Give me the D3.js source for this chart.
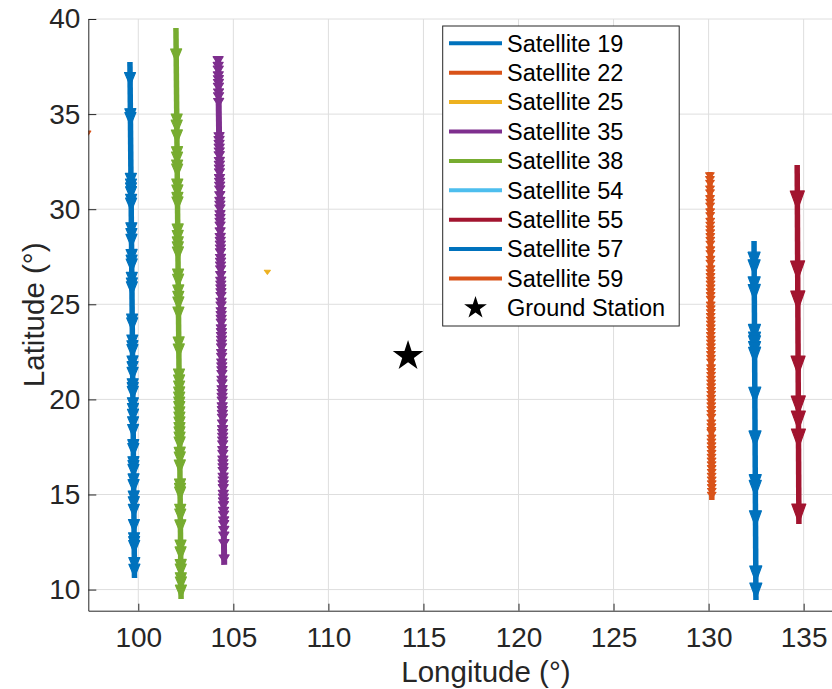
<!DOCTYPE html>
<html>
<head>
<meta charset="utf-8">
<script src="https://cdn.jsdelivr.net/npm/d3@7"></script>
<style>
  html, body { margin: 0; padding: 0; background: #fff; }
  svg { display: block; font-family: "Liberation Sans", Arial, Helvetica, sans-serif; }
</style>
</head>
<body>
<svg id="chart" width="832" height="689"></svg>
<script>
// ---------------- DATA ----------------
const satellites = ["Satellite 19", "Satellite 22", "Satellite 25", "Satellite 35", "Satellite 38",
                    "Satellite 54", "Satellite 55", "Satellite 57", "Satellite 59"];
// track start / end (longitude, latitude); null = no visible track
const lonStart = [99.56, 97.37, 106.79, 104.20, 101.98, null, 134.66, 132.39, 130.07];
const latStart = [37.74, 34.05, 26.72, 38.00, 39.53, null, 32.32, 28.33, 31.96];
const lonEnd   = [99.80, 97.37, 106.79, 104.52, 102.25, null, 134.75, 132.49, 130.17];
const latEnd   = [10.61, 33.90, 26.58, 11.30, 9.51, null, 13.45, 9.45, 14.71];
// latitudes of arrow-head tips along each track
const arrowLats = [
  [36.5, 34.6, 34.4, 31.2, 30.9, 30.7, 30.5, 30.1, 29.9, 28.6, 28.3, 28.0, 27.2, 26.9, 26.7, 26.0,
   25.7, 25.5, 23.8, 23.6, 22.7, 22.4, 22.2, 21.6, 21.3, 21.0, 20.4, 20.2, 20.0, 19.4, 19.1, 18.8,
   18.4, 18.0, 17.2, 17.0, 16.3, 16.1, 15.9, 15.4, 15.1, 14.5, 14.2, 13.8, 13.0, 12.3, 12.1, 11.9,
   11.0, 10.65],
  [33.90],
  [26.58],
  [37.6, 37.3, 37.1, 36.8, 36.6, 36.4, 36.2, 35.9, 35.7, 35.4, 33.6, 33.4, 33.2, 33.0, 32.8, 32.6,
   32.3, 32.1, 31.9, 31.7, 31.4, 31.2, 31.0, 30.8, 30.5, 30.2, 30.0, 29.8, 29.5, 29.3, 29.1, 28.9,
   28.6, 28.3, 28.1, 27.9, 27.7, 27.5, 27.2, 27.0, 26.8, 26.6, 26.3, 26.0, 25.8, 25.6, 25.4, 25.2,
   24.9, 24.7, 24.4, 24.2, 24.0, 23.8, 23.5, 23.3, 23.1, 22.9, 22.7, 22.5, 22.2, 22.0, 21.7, 21.5,
   21.3, 21.1, 20.8, 20.6, 20.3, 20.1, 19.9, 19.7, 19.4, 19.2, 19.0, 18.8, 18.5, 18.2, 18.0, 17.8,
   17.6, 17.4, 17.1, 16.9, 16.6, 16.4, 16.2, 16.0, 15.7, 15.5, 15.3, 15.1, 14.8, 14.6, 14.4, 14.2,
   13.9, 13.7, 13.4, 13.2, 12.9, 12.6, 12.2, 11.4],
  [37.74, 34.32, 34.0, 33.48, 32.6, 32.32, 31.9, 31.69, 30.9, 30.59, 30.2, 29.96, 28.54, 28.2, 27.86,
   27.6, 27.33, 26.17, 25.9, 25.33, 25.0, 24.70, 24.17, 22.60, 22.23, 20.91, 20.6, 20.28, 19.97,
   19.7, 19.44, 19.2, 18.92, 18.65, 18.39, 18.1, 17.87, 17.6, 17.34, 16.8, 16.55, 16.13, 15.13,
   14.9, 14.71, 13.8, 13.55, 12.98, 11.92, 11.56, 10.9, 10.66, 10.2, 9.98, 9.55],
  [],
  [29.96, 26.28, 24.70, 21.28, 19.18, 18.39, 17.44, 13.50],
  [26.9, 26.5, 25.6, 25.2, 23.1, 22.7, 22.5, 22.2, 21.9, 19.8, 17.5, 15.2, 14.9, 13.3, 10.4, 9.5],
  [31.6, 31.4, 31.2, 30.9, 30.7, 30.4, 30.2, 30.0, 29.7, 29.5, 29.2, 29.0, 28.8, 28.6, 28.4, 28.2,
   28.0, 27.7, 27.5, 27.2, 27.0, 26.7, 26.5, 26.3, 26.1, 25.9, 25.7, 25.5, 25.3, 25.1, 24.8, 24.6,
   24.4, 24.2, 24.0, 23.8, 23.6, 23.4, 23.2, 23.0, 22.8, 22.6, 22.4, 22.2, 22.0, 21.8, 21.5, 21.3,
   21.1, 20.9, 20.7, 20.5, 20.3, 20.1, 19.9, 19.7, 19.5, 19.3, 19.1, 18.9, 18.6, 18.4, 18.2, 18.1,
   17.8, 17.6, 17.4, 17.2, 17.0, 16.8, 16.6, 16.4, 16.2, 16.0, 15.8, 15.6, 15.4, 15.2, 15.0, 14.8]
];
const stationName = "Ground Station";
const stationLon = 114.19;
const stationLat = 22.28;
const lonTicks = [100, 105, 110, 115, 120, 125, 130, 135];
const latTicks = [10, 15, 20, 25, 30, 35, 40];
const xTitle = "Longitude (°)";
const yTitle = "Latitude (°)";

// ---------------- STYLE ----------------
const colors = ["#0072BD", "#D95319", "#EDB120", "#7E2F8E", "#77AC30", "#4DBEEE", "#A2142F", "#0072BD", "#D95319"];
const lineWidths = [5.5, 3, 3, 6, 5.5, 4, 5.5, 5.5, 5.5];
const headLen    = [13, 4, 4, 8, 13, 10, 19, 16, 6];
const headWid    = [11, 5, 6, 10, 11, 10, 14, 12, 8.5];

// ---------------- CHART ----------------
const svg = d3.select("#chart");
const pLeft = 88.3, pTop = 19, pBottom = 610.7, pxPerDeg = 19.01;
const x = d3.scaleLinear().domain([97.37, 139.2]).range([pLeft, pLeft + (139.2 - 97.37) * pxPerDeg]);
const y = d3.scaleLinear().domain([8.89, 40]).range([pBottom, pTop]);
const [xr0, xr1] = x.range();

svg.append("defs").append("clipPath").attr("id", "clip")
  .append("rect").attr("x", xr0).attr("y", pTop).attr("width", xr1 - xr0).attr("height", pBottom - pTop);

// grid
const grid = svg.append("g").attr("stroke", "#dedede").attr("stroke-width", 1);
grid.selectAll(".gx").data(lonTicks).join("line").attr("class", "gx")
  .attr("x1", d => x(d)).attr("x2", d => x(d)).attr("y1", pTop).attr("y2", pBottom);
grid.selectAll(".gy").data(latTicks).join("line").attr("class", "gy")
  .attr("x1", xr0).attr("x2", xr1).attr("y1", d => y(d)).attr("y2", d => y(d));

// tracks
const plot = svg.append("g").attr("clip-path", "url(#clip)");
satellites.forEach((name, i) => {
  if (lonStart[i] === null) return;
  const x0 = x(lonStart[i]), y0 = y(latStart[i]), x1 = x(lonEnd[i]), y1 = y(latEnd[i]);
  const g = plot.append("g");
  const len = Math.hypot(x1 - x0, y1 - y0);
  if (len > 6) {
    g.append("line").attr("x1", x0).attr("y1", y0).attr("x2", x1).attr("y2", y1)
      .attr("stroke", colors[i]).attr("stroke-width", lineWidths[i]);
  }
  let dx = (x1 - x0) / (len || 1), dy = (y1 - y0) / (len || 1);
  if (len === 0) { dx = 0; dy = 1; }
  const lonAt = lat => lonStart[i] + (lonEnd[i] - lonStart[i]) * ((lat - latStart[i]) / ((latEnd[i] - latStart[i]) || 1));
  g.selectAll("path").data(arrowLats[i]).join("path")
    .attr("d", lat => {
      const tx = x(lonAt(lat)), ty = y(lat);
      const bx = tx - dx * headLen[i], by = ty - dy * headLen[i];
      const px = -dy * headWid[i] / 2, py = dx * headWid[i] / 2;
      return `M${tx},${ty}L${bx + px},${by + py}L${bx - px},${by - py}Z`;
    })
    .attr("fill", colors[i]).attr("stroke", colors[i]).attr("stroke-width", 1.2)
    .attr("stroke-linejoin", "round");
});

// ground station
const starBig = d3.symbol().type(d3.symbolStar).size(290);
plot.append("path").attr("d", starBig())
  .attr("transform", `translate(${x(stationLon)},${y(stationLat)})`)
  .attr("fill", "#000");

// axes
const axisColor = "#262626";
const xAxis = svg.append("g").attr("transform", `translate(0,${pBottom})`)
  .call(d3.axisBottom(x).tickValues(lonTicks).tickSizeInner(-7).tickSizeOuter(0).tickPadding(16));
const yAxis = svg.append("g").attr("transform", `translate(${pLeft},0)`)
  .call(d3.axisLeft(y).tickValues(latTicks).tickSizeInner(-8).tickSizeOuter(0).tickPadding(8));
[xAxis, yAxis].forEach(a => {
  a.select(".domain").attr("stroke", axisColor).attr("stroke-width", 1);
  a.selectAll(".tick line").attr("stroke", axisColor).attr("stroke-width", 1);
  a.selectAll(".tick text").attr("fill", axisColor).style("font-size", "28px")
    .style("font-family", "'Liberation Sans', Arial, sans-serif");
});

svg.append("text").attr("x", (xr0 + xr1) / 2).attr("y", 682)
  .attr("text-anchor", "middle").attr("fill", axisColor).style("font-size", "29.5px").text(xTitle);
svg.append("text").attr("transform", `translate(44,${(pTop + pBottom) / 2}) rotate(-90)`)
  .attr("text-anchor", "middle").attr("fill", axisColor).style("font-size", "29.5px").text(yTitle);

// legend
const lg = svg.append("g");
const lx = 442.7, ly = 26, lw = 236.5, lh = 300, rowH = 29.4, row0 = 43.3;
lg.append("rect").attr("x", lx).attr("y", ly).attr("width", lw).attr("height", lh)
  .attr("fill", "#fff").attr("stroke", axisColor).attr("stroke-width", 1);
const entries = satellites.map((s, i) => ({ name: s, color: colors[i], star: false }))
  .concat([{ name: stationName, color: "#000", star: true }]);
const rows = lg.selectAll(".row").data(entries).join("g").attr("class", "row")
  .attr("transform", (d, i) => `translate(0,${row0 + i * rowH})`);
rows.filter(d => !d.star).append("line")
  .attr("x1", 449).attr("x2", 502).attr("y1", 0).attr("y2", 0)
  .attr("stroke", d => d.color).attr("stroke-width", 4);
rows.filter(d => d.star).append("path")
  .attr("d", d3.symbol().type(d3.symbolStar).size(160)())
  .attr("transform", "translate(475.5,0)").attr("fill", "#000");
rows.append("text").attr("x", 507).attr("y", 0).attr("dy", "0.35em")
  .attr("fill", "#000").style("font-size", "23.5px").text(d => d.name);
</script>
</body>
</html>
